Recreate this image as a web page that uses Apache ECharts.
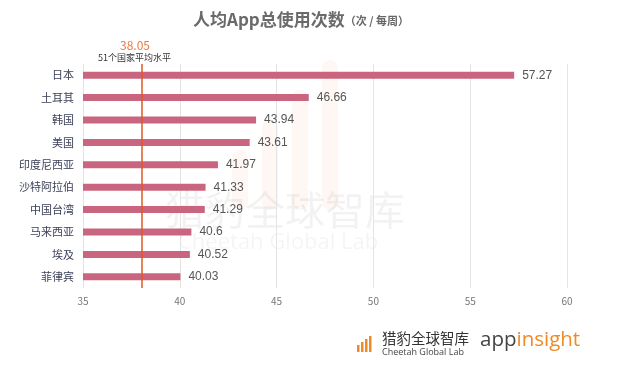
<!DOCTYPE html>
<html><head><meta charset="utf-8">
<script src="https://cdn.jsdelivr.net/npm/echarts@6/dist/echarts.min.js"></script>
<style>html,body{margin:0;padding:0;background:#fff}#c{width:640px;height:373px}</style>
</head><body><div id="c"></div>
<script>
const categories = ['日本','土耳其','韩国','美国','印度尼西亚','沙特阿拉伯','中国台湾','马来西亚','埃及','菲律宾'];
const values = [57.27,46.66,43.94,43.61,41.97,41.33,41.29,40.6,40.52,40.03];
const averageValue = 38.05;
const axisTicks = [35,40,45,50,55,60];

const chart = echarts.init(document.getElementById('c'), null, {renderer:'canvas'});
const F = '"Noto Sans CJK SC","Noto Sans",sans-serif';
const wmBars = [[232,150,60],[262,120,90],[292,90,120],[322,60,150]];
const footBars = [[357,345,7],[361,342,10],[365,339,13],[369,336,16]];
chart.setOption({
  animation:false,
  backgroundColor:'#fff',
  title:{
    text:'{a|人均App总使用次数}{b|（次 / 每周）}',
    left:188, top:6,
    textStyle:{rich:{
      a:{fontSize:17,fontWeight:'bold',color:'#6a6a6a',fontFamily:F},
      b:{fontSize:11,color:'#666',fontFamily:F,padding:[3,0,0,0]}
    }}
  },
  grid:{left:83,right:73,top:64,height:224},
  xAxis:{
    type:'value',min:axisTicks[0],max:axisTicks[axisTicks.length-1],interval:5,
    axisLine:{show:false},axisTick:{show:false},
    axisLabel:{color:'#777',fontSize:10,margin:8,fontFamily:F},
    splitLine:{show:true,lineStyle:{color:'#e4e4e4',width:1}}
  },
  yAxis:{
    type:'category',data:categories,inverse:true,
    axisLine:{show:false},axisTick:{show:false},
    axisLabel:{color:'#3c4158',fontSize:11,margin:9,fontFamily:F}
  },
  graphic:[
    ...wmBars.map(b=>({type:'rect',z:-1,shape:{x:b[0],y:b[1],width:16,height:b[2],r:8},style:{fill:'rgba(245,170,120,0.09)'}})),
    {type:'text',z:-1,left:165,top:190,style:{text:'猎豹全球智库',fontSize:40,fill:'rgba(0,0,0,0.05)',fontFamily:F}},
    {type:'text',z:-1,left:178,top:232,style:{text:'Cheetah Global Lab',fontSize:22,fill:'rgba(0,0,0,0.045)',fontFamily:'"Open Sans",sans-serif'}},
    {type:'text',left:120,top:39,style:{text:'38.05',fontSize:12,fill:'#e87b45',fontFamily:F}},
    {type:'text',left:98,top:53,style:{text:'51个国家平均水平',fontSize:9,fill:'#333',fontFamily:F}},
    ...footBars.map(b=>({type:'rect',shape:{x:b[0],y:b[1],width:2.5,height:b[2]},style:{fill:'#f08a24'}})),
    {type:'text',left:382,top:331,style:{text:'猎豹全球智库',fontSize:14.5,fill:'#333',fontFamily:F}},
    {type:'text',left:382,top:348,style:{text:'Cheetah Global Lab',fontSize:9,fill:'#444',fontFamily:'"Open Sans",sans-serif'}},
    {type:'text',left:480,top:330,style:{text:'{a|app}{b|insight}',rich:{
      a:{fontSize:20.5,fill:'#444',fontFamily:'"Open Sans",sans-serif'},
      b:{fontSize:20.5,fill:'#f08a24',fontFamily:'"Open Sans",sans-serif'}}}}
  ],
  series:[{
    type:'bar',data:values,barWidth:7,
    itemStyle:{color:'#c9657f'},
    label:{show:true,position:'right',distance:8,color:'#555',fontSize:12,fontFamily:'"Liberation Sans",sans-serif'},
    markLine:{
      symbol:'none',silent:true,
      lineStyle:{color:'#dd5a22',width:1.5,type:'solid'},
      label:{show:false},
      data:[{xAxis:averageValue}]
    }
  }]
});
</script></body></html>
